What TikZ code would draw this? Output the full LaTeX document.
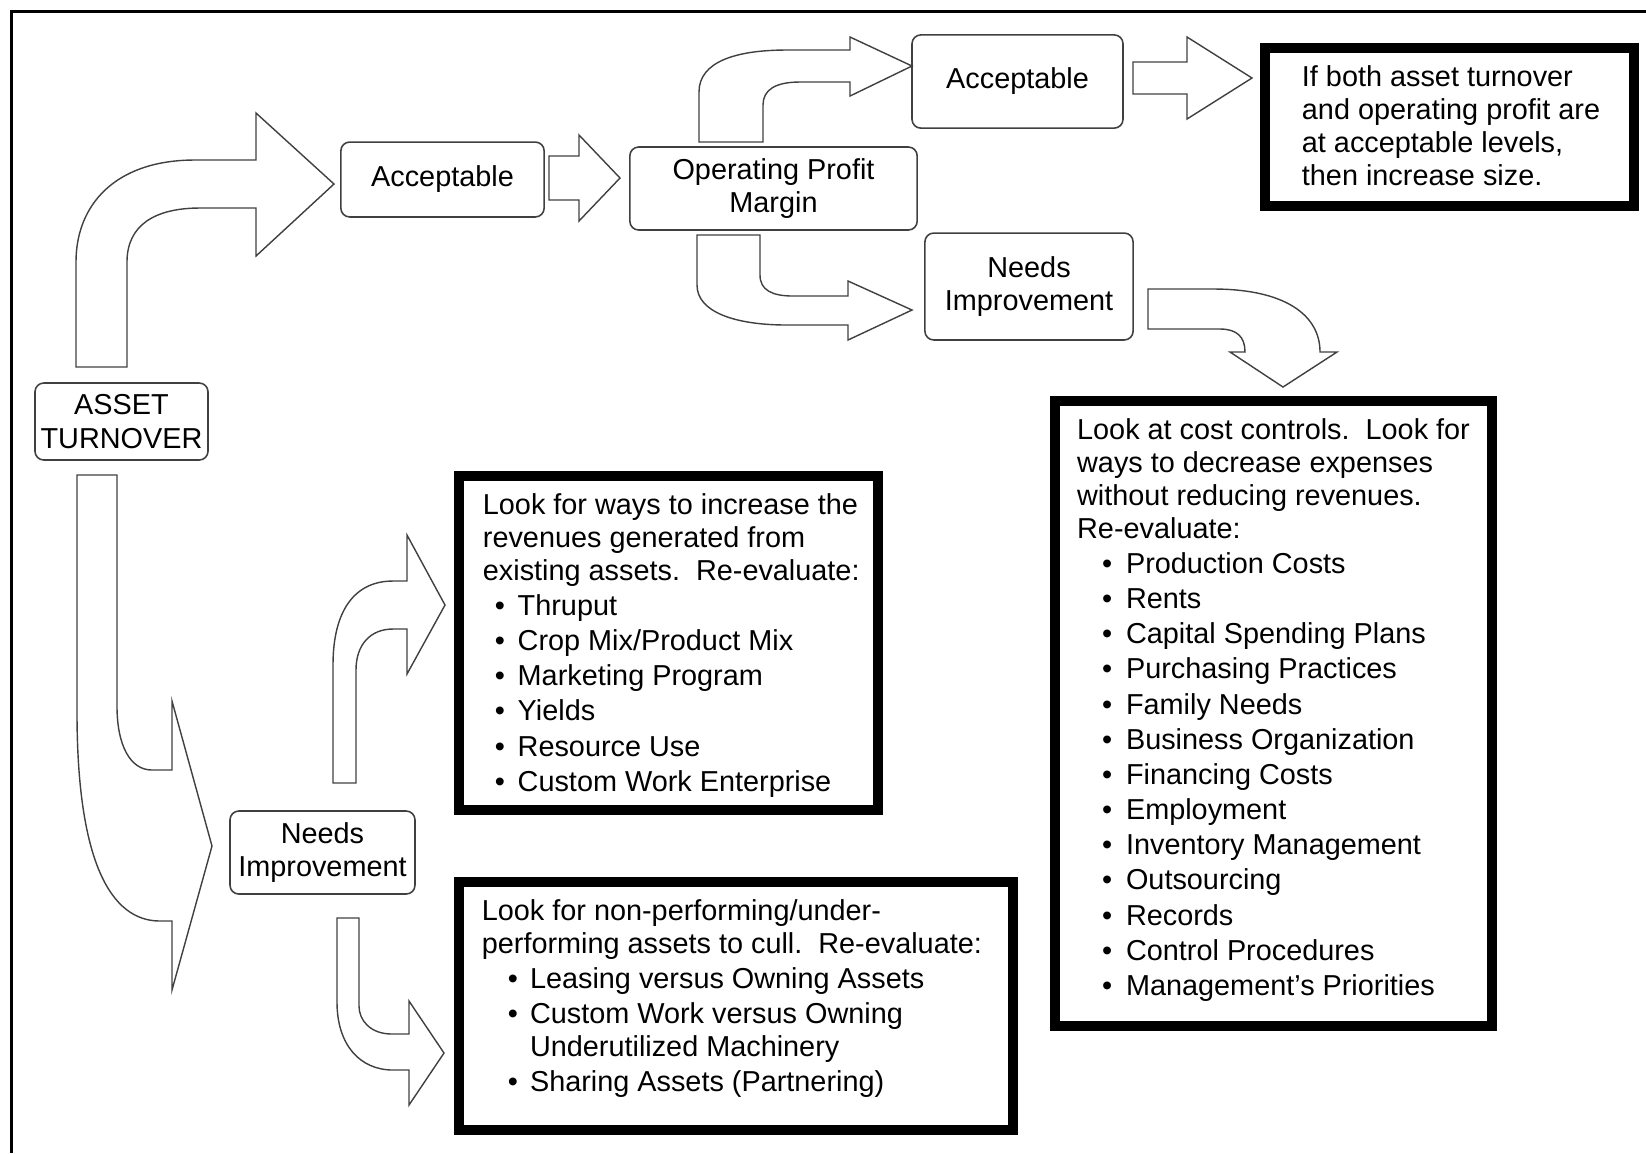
\documentclass[tikz,border=0pt]{standalone}
\usepackage{fontspec}
\setmainfont{Liberation Sans}

% text block of a heavy box: width, height, left margin, lines
\newcommand{\boxtext}[4]{%
  \parbox[c][#2][t]{#1}{\fontsize{8.2}{9.4}\selectfont\leftskip=#3\relax
    \vspace*{4.9pt}#4}}
% bullet line: indent, bullet width, text
\newcommand{\bitem}[3]{\\[0.6pt]\hspace*{#1}\makebox[#2][l]{\textbullet}#3}

\begin{document}
\begin{tikzpicture}[
  x=0.01cm,
  y=-0.01cm,
  outcome/.style={
    draw=black!75,
    line width=0.45pt,
    rounded corners=2.5pt,
    align=center,
    inner sep=1pt,
    font=\fontsize{8.2}{9.6}\selectfont,
  },
  advice/.style={
    draw,
    line width=2.85pt,
    inner sep=0pt,
    outer sep=0pt,
    anchor=north west,
  },
  bigarrow/.style={
    draw=black!75,
    line width=0.4pt,
    line join=miter,
  },
]
\useasboundingbox (0,0) rectangle (1646,1153);

% Frame
\draw[line width=1pt] (1646,11.5) -- (11.5,11.5) -- (11.5,1153);

% Decision nodes
\node[outcome, minimum width=49.2pt, minimum height=21.9pt] (turnover) at (121.5,421.5) {ASSET\\TURNOVER};
\node[outcome, minimum width=57.8pt, minimum height=21.3pt] (accept) at (442.5,179.5) {Acceptable};
\node[outcome, minimum width=81.7pt, minimum height=23.6pt] (margin) at (773.5,188.5) {Operating Profit\\Margin};
\node[outcome, minimum width=60pt, minimum height=26.5pt] (accept2) at (1017.5,81.5) {Acceptable};
\node[outcome, minimum width=59.2pt, minimum height=30.4pt] (improve2) at (1029,286.5) {Needs\\Improvement};
\node[outcome, minimum width=52.6pt, minimum height=23.6pt] (improve) at (322.5,852.5) {Needs\\Improvement};

% Advice boxes
\node[advice] (grow) at (1265,48) {\boxtext{105pt}{45pt}{10.5pt}{%
  If both asset turnover\\
  and operating profit are\\
  at acceptable levels,\\
  then increase size.}};
\node[advice] (revenue) at (459,476) {\boxtext{119.2pt}{95pt}{6.8pt}{%
  Look for ways to increase the\\
  revenues generated from\\
  existing assets.\ \ Re-evaluate:%
  \bitem{3.4pt}{6.5pt}{Thruput}%
  \bitem{3.4pt}{6.5pt}{Crop Mix/Product Mix}%
  \bitem{3.4pt}{6.5pt}{Marketing Program}%
  \bitem{3.4pt}{6.5pt}{Yields}%
  \bitem{3.4pt}{6.5pt}{Resource Use}%
  \bitem{3.4pt}{6.5pt}{Custom Work Enterprise}}};
\node[advice] (cull) at (459,882) {\boxtext{157.6pt}{70.6pt}{6.5pt}{%
  Look for non-performing/under-\\
  performing assets to cull.\ \ Re-evaluate:%
  \bitem{7.4pt}{6.3pt}{Leasing versus Owning Assets}%
  \bitem{7.4pt}{6.3pt}{Custom Work versus Owning}\\
  \hspace*{13.7pt}Underutilized Machinery%
  \bitem{7.4pt}{6.3pt}{Sharing Assets (Partnering)}}};
\node[advice] (cost) at (1055,401) {\boxtext{124.3pt}{177.8pt}{6.3pt}{%
  Look at cost controls.\ \ Look for\\
  ways to decrease expenses\\
  without reducing revenues.\\
  Re-evaluate:%
  \bitem{7.1pt}{6.8pt}{Production Costs}%
  \bitem{7.1pt}{6.8pt}{Rents}%
  \bitem{7.1pt}{6.8pt}{Capital Spending Plans}%
  \bitem{7.1pt}{6.8pt}{Purchasing Practices}%
  \bitem{7.1pt}{6.8pt}{Family Needs}%
  \bitem{7.1pt}{6.8pt}{Business Organization}%
  \bitem{7.1pt}{6.8pt}{Financing Costs}%
  \bitem{7.1pt}{6.8pt}{Employment}%
  \bitem{7.1pt}{6.8pt}{Inventory Management}%
  \bitem{7.1pt}{6.8pt}{Outsourcing}%
  \bitem{7.1pt}{6.8pt}{Records}%
  \bitem{7.1pt}{6.8pt}{Control Procedures}%
  \bitem{7.1pt}{6.8pt}{Management’s Priorities}}};

% Block arrows
% turnover acceptable
\draw[bigarrow] (76,367) -- (76,262) .. controls (76,205) and (115,160) .. (195,160)
  -- (256,160) -- (256,113) -- (334,184) -- (256,256) -- (256,208) -- (200,208)
  .. controls (155,208) and (127,225) .. (127,262) -- (127,367) -- cycle;
% acceptable -> margin
\draw[bigarrow] (549,156) -- (579,156) -- (579,135) -- (620,178) -- (579,221)
  -- (579,200) -- (549,200) -- cycle;
% margin acceptable
\draw[bigarrow] (699,142) -- (699,92) .. controls (699,62) and (735,50) .. (787,50)
  -- (850,50) -- (850,37) -- (912,66) -- (850,96) -- (850,82) -- (800,82)
  .. controls (775,82) and (763,90) .. (763,105) -- (763,142) -- cycle;
% acceptable -> increase size
\draw[bigarrow] (1133,62) -- (1187,62) -- (1187,37) -- (1252,78) -- (1187,119)
  -- (1187,94) -- (1133,94) -- cycle;
% margin needs improvement
\draw[bigarrow] (697,235) -- (697,285) .. controls (697,312) and (735,325) .. (787,325)
  -- (848,325) -- (848,340) -- (912,310) -- (848,281) -- (848,296) -- (793,296)
  .. controls (772,296) and (760,290) .. (760,275) -- (760,235) -- cycle;
% needs improvement -> cost controls
\draw[bigarrow] (1148,289) -- (1213,289) .. controls (1285,289) and (1320,315) .. (1320,352)
  -- (1337,352) -- (1283,387) -- (1230,352) -- (1245,352)
  .. controls (1245,337) and (1237,329) .. (1220,329) -- (1148,329) -- cycle;
% turnover needs improvement
\draw[bigarrow] (77,475) -- (77,712) .. controls (77,860) and (110,921) .. (160,921)
  -- (172,921) -- (172,990) -- (212,846) -- (172,701) -- (172,770) -- (152,770)
  .. controls (130,770) and (117,745) .. (117,706) -- (117,475) -- cycle;
% needs improvement -> revenues
\draw[bigarrow] (333,783) -- (333,665) .. controls (333,610) and (355,581) .. (393,581)
  -- (407,581) -- (407,535) -- (445,605) -- (407,674) -- (407,629) -- (393,629)
  .. controls (370,629) and (356,645) .. (356,670) -- (356,783) -- cycle;
% needs improvement -> cull
\draw[bigarrow] (337,918) -- (337,1002) .. controls (337,1045) and (360,1070) .. (393,1070)
  -- (409,1070) -- (409,1105) -- (444,1053) -- (409,1001) -- (409,1034) -- (392,1034)
  .. controls (370,1034) and (359,1020) .. (359,1006) -- (359,918) -- cycle;

\end{tikzpicture}
\end{document}
